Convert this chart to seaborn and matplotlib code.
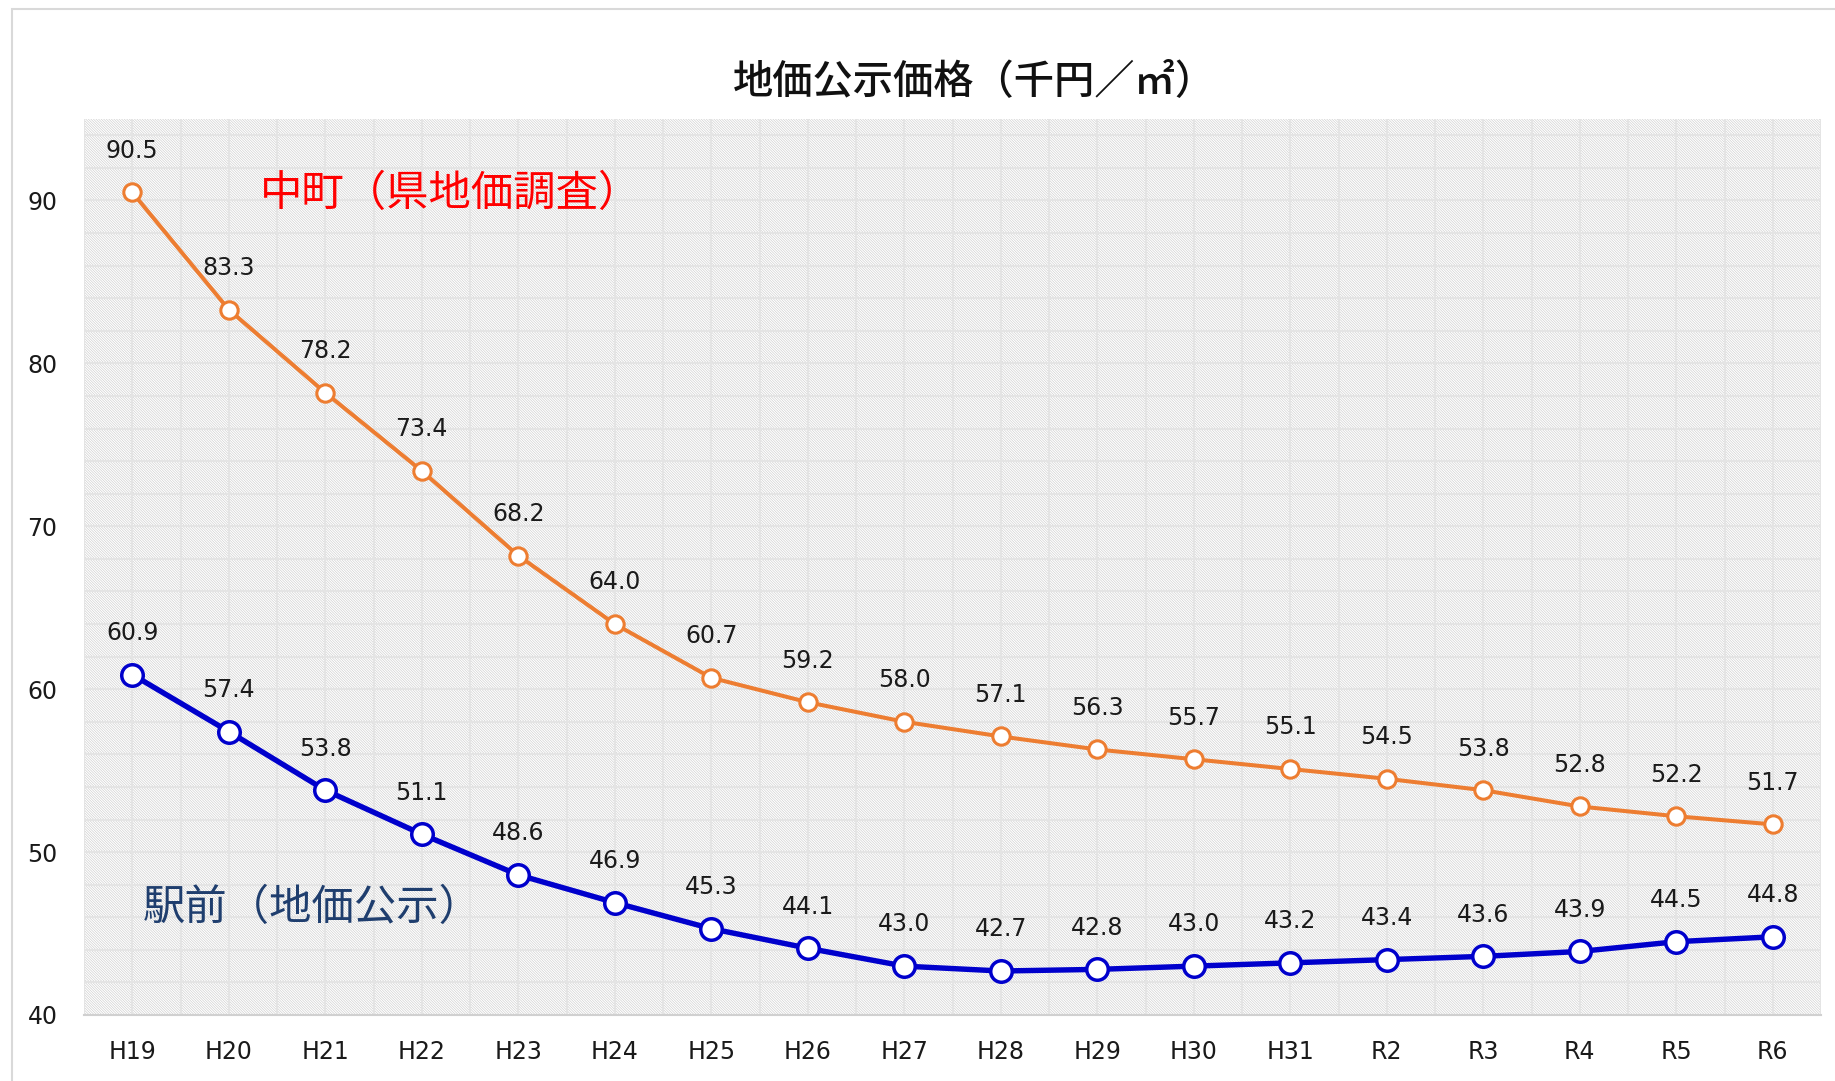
import matplotlib
matplotlib.use("Agg")
import matplotlib.pyplot as plt
import seaborn as sns
import pandas as pd
import numpy as np
from matplotlib.patches import Rectangle
from matplotlib.ticker import MultipleLocator

years = ["H19", "H20", "H21", "H22", "H23", "H24", "H25", "H26", "H27",
         "H28", "H29", "H30", "H31", "R2", "R3", "R4", "R5", "R6"]
nakamachi = [90.5, 83.3, 78.2, 73.4, 68.2, 64.0, 60.7, 59.2, 58.0,
             57.1, 56.3, 55.7, 55.1, 54.5, 53.8, 52.8, 52.2, 51.7]
ekimae = [60.9, 57.4, 53.8, 51.1, 48.6, 46.9, 45.3, 44.1, 43.0,
          42.7, 42.8, 43.0, 43.2, 43.4, 43.6, 43.9, 44.5, 44.8]

title = "地価公示価格（千円／㎡）"
label_naka = "中町（県地価調査）"
label_eki = "駅前（地価公示）"

sns.set_theme(style="white")
plt.rcParams['font.family'] = ['DejaVu Sans', 'Noto Sans CJK JP']
plt.rcParams['hatch.linewidth'] = 0.45
JP = ['Noto Sans CJK JP', 'DejaVu Sans']

fig = plt.figure(figsize=(18.35, 10.81), dpi=100)
ax = fig.add_axes([84/1835, 1-1015/1081, (1821-84)/1835, (1015-119)/1081])

# hatched background
ax.add_patch(Rectangle((0, 0), 1, 1, transform=ax.transAxes, facecolor='white',
                       edgecolor='#cdcdcd', hatch='\\' * 13, lw=0, zorder=0))

df_n = pd.DataFrame({"year": years, "value": nakamachi})
df_e = pd.DataFrame({"year": years, "value": ekimae})

sns.lineplot(data=df_n, x="year", y="value", ax=ax, color='#ED7D31', lw=2.9,
             marker='o', markersize=12.5, markerfacecolor='white',
             markeredgecolor='#ED7D31', markeredgewidth=2.2, zorder=5)
sns.lineplot(data=df_e, x="year", y="value", ax=ax, color='#0000CC', lw=3.9,
             marker='o', markersize=15.5, markerfacecolor='white',
             markeredgecolor='#0000CC', markeredgewidth=2.5, zorder=5)

for i, v in enumerate(nakamachi):
    ax.annotate(f"{v:.1f}", (i, v), xytext=(0, 30), textcoords='offset points',
                ha='center', va='center', fontsize=17, color='#1a1a1a', zorder=6)
for i, v in enumerate(ekimae):
    ax.annotate(f"{v:.1f}", (i, v), xytext=(0, 30), textcoords='offset points',
                ha='center', va='center', fontsize=17, color='#1a1a1a', zorder=6)

ax.set_xlim(-0.5, len(years) - 0.5)
ax.set_ylim(40, 95)
ax.yaxis.set_major_locator(MultipleLocator(10))
ax.yaxis.set_minor_locator(MultipleLocator(2))
ax.xaxis.set_minor_locator(MultipleLocator(0.5))
ax.grid(which='both', color='#e4e4e4', lw=1.5, zorder=1)
ax.set_axisbelow(True)
ax.set_xlabel("")
ax.set_ylabel("")
ax.tick_params(axis='both', which='both', length=0, labelsize=17, colors='#1a1a1a')
ax.tick_params(axis='y', pad=19)
ax.tick_params(axis='x', pad=18)
for s in ['top', 'right', 'left']:
    ax.spines[s].set_visible(False)
ax.spines['bottom'].set_color('#d0d0d0')
ax.spines['bottom'].set_linewidth(1.5)

ax.text(1.32, 90.4, label_naka, color='#FF0000', fontsize=30.5, family=JP,
        ha='left', va='center', fontweight='normal', zorder=6)
ax.text(0.11, 46.6, label_eki, color='#1F3E6E', fontsize=30.5, family=JP,
        ha='left', va='center', fontweight='normal', zorder=6)

fig.text(974/1835, 1-82/1081, title, fontsize=29, family=JP, ha='center',
         va='center', color='#111111', fontweight='medium')

fig.patches.append(Rectangle((12/1835, -0.1), 1.2, 1.1 - 9/1081,
                             transform=fig.transFigure, fill=False,
                             edgecolor='#d9d9d9', lw=1.5))

fig.savefig("out.png", dpi=100)
